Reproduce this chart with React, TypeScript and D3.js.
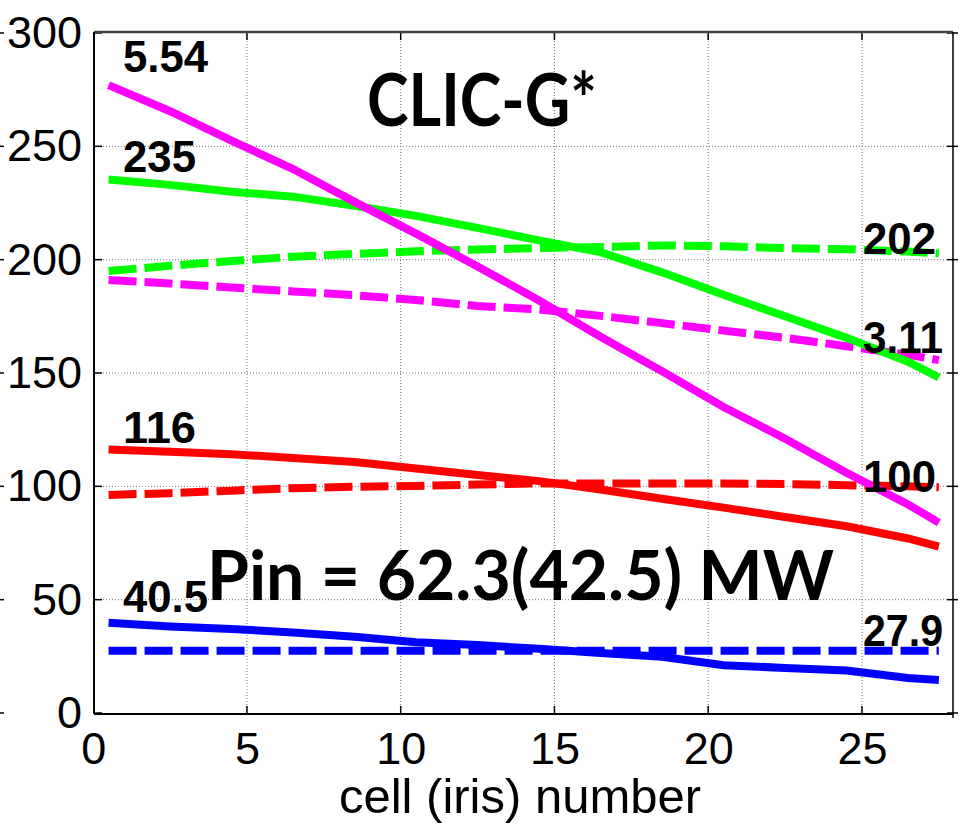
import React, { useRef, useEffect } from 'react';
import { select, scaleLinear, axisBottom, axisLeft, line } from 'd3';

// cell positions (iris number) where the curves were read
const cellX = [0.5, 2.5, 4.5, 6.5, 8.5, 10.5, 12.5, 14.5, 16.5, 18.5, 20.5, 22.5, 24.5, 26.5, 27.5];

const magentaSolid = [277, 265.5, 252.5, 240, 225.5, 211.5, 197, 182, 166, 150.8, 135, 121, 106, 92, 84];
const magentaDashed = [191, 189.5, 187.7, 186, 184.3, 182.2, 179.6, 178, 175.2, 172, 168.7, 165.5, 161.8, 158, 155.7];
const greenSolid = [235.4, 233, 230, 227.8, 223.8, 219.3, 214, 208.5, 203.3, 194.4, 184.5, 175, 165.5, 155, 148];
const greenDashed = [195, 197.3, 199.4, 201.3, 202.5, 203.7, 204.5, 205.1, 205.6, 206.3, 205.9, 205.1, 204.6, 203.6, 202.8];
const redSolid = [116.3, 115.3, 114.2, 112.5, 110.7, 107.9, 105, 102.3, 98.6, 94.5, 90.6, 86.5, 82.4, 77, 73.4];
const redDashed = [96.2, 97, 98.1, 99.2, 99.8, 100.2, 100.8, 101.3, 101.3, 101.3, 101.3, 101, 100.5, 100, 99.6];
const blueSolid = [39.8, 38.2, 37.1, 35.5, 33.6, 31.2, 30, 28.3, 26.5, 24.8, 21.1, 19.9, 18.7, 15.4, 14.6];
const blueDashed = [27.5, 27.5, 27.5, 27.5, 27.5, 27.5, 27.5, 27.5, 27.5, 27.5, 27.5, 27.5, 27.5, 27.5, 27.5];

const xTicks = [0, 5, 10, 15, 20, 25];
const yTicks = [0, 50, 100, 150, 200, 250, 300];

const series = [
  { values: magentaDashed, color: '#ff00ff', dashed: true },
  { values: greenDashed, color: '#00ff00', dashed: true },
  { values: redDashed, color: '#ff0000', dashed: true },
  { values: blueDashed, color: '#0000ff', dashed: true },
  { values: greenSolid, color: '#00ff00', dashed: false },
  { values: magentaSolid, color: '#ff00ff', dashed: false },
  { values: redSolid, color: '#ff0000', dashed: false },
  { values: blueSolid, color: '#0000ff', dashed: false },
];

// start / end value labels
const startLabels = [
  { text: '5.54', v: magentaSolid[0], dy: -5, w: 85 },
  { text: '235', v: greenSolid[0], dy: 1, w: 73 },
  { text: '116', v: redSolid[0], dy: 2, w: 73 },
  { text: '40.5', v: blueSolid[0], dy: -3, w: 85 },
];
const endLabels = [
  { text: '202', v: greenDashed[14], dy: 3, w: 73 },
  { text: '3.11', v: magentaDashed[14], dy: -5, w: 80 },
  { text: '100', v: redDashed[14], dy: 7, w: 73 },
  { text: '27.9', v: blueDashed[14], dy: -3, w: 80 },
];

const W = 960;
const H = 824;
const left = 94;
const right = 953;
const top = 32;
const bottom = 714;

export default function App() {
  const xAxisRef = useRef(null);
  const yAxisRef = useRef(null);

  const x = scaleLinear().domain([0, 28]).range([93.2, 954.2]);
  const y = scaleLinear().domain([0, 300]).range([713, 33]);

  useEffect(() => {
    const xa = select(xAxisRef.current);
    xa.call(axisBottom(x).tickValues(xTicks).tickSize(0).tickPadding(18));
    xa.select('.domain').remove();
    xa.selectAll('text')
      .attr('font-family', '"Liberation Sans", Arial, sans-serif')
      .attr('font-size', 45)
      .attr('fill', '#000');

    const ya = select(yAxisRef.current);
    ya.call(axisLeft(y).tickValues(yTicks).tickSize(0).tickPadding(12));
    ya.select('.domain').remove();
    ya.selectAll('text')
      .attr('font-family', '"Liberation Sans", Arial, sans-serif')
      .attr('font-size', 45)
      .attr('fill', '#000');
  }, []);

  const path = line<number>()
    .x((d, i) => x(cellX[i]))
    .y((d) => y(d));

  const numFont = '"Liberation Sans", Arial, sans-serif';

  return (
    <svg width={W} height={H} style={{ position: 'absolute', left: 0, top: 0, background: '#fff' }}>
      <rect x={0} y={0} width={W} height={H} fill="#fff" />
      {/* grid */}
      {xTicks.filter((t) => t > 0).map((t) => (
        <line key={'gx' + t} x1={x(t)} x2={x(t)} y1={top} y2={bottom} stroke="#777" strokeWidth={1} strokeDasharray="1 2" />
      ))}
      {yTicks.filter((t) => t > 0 && t < 300).map((t) => (
        <line key={'gy' + t} x1={left} x2={right} y1={y(t)} y2={y(t)} stroke="#777" strokeWidth={1} strokeDasharray="1 2" />
      ))}
      {/* inner ticks */}
      {xTicks.filter((t) => t > 0).map((t) => (
        <g key={'tx' + t} stroke="#000" strokeWidth={1.5}>
          <line x1={x(t)} x2={x(t)} y1={top} y2={top + 8} />
          <line x1={x(t)} x2={x(t)} y1={bottom} y2={bottom - 8} />
        </g>
      ))}
      {yTicks.map((t) => (
        <g key={'ty' + t} stroke="#000" strokeWidth={1.5}>
          <line x1={left} x2={left + 8} y1={y(t)} y2={y(t)} />
          <line x1={right - 6} x2={right + 5} y1={y(t)} y2={y(t)} />
          <line x1={0} x2={4} y1={y(t)} y2={y(t)} />
        </g>
      ))}
      {/* box */}
      <line x1={left} x2={right} y1={top} y2={top} stroke="#444" strokeWidth={2.5} />
      <line x1={left} x2={right} y1={bottom} y2={bottom} stroke="#000" strokeWidth={2} />
      <line x1={left} x2={left} y1={top} y2={bottom} stroke="#000" strokeWidth={2} />
      <line x1={right} x2={right} y1={top} y2={bottom + 4} stroke="#000" strokeWidth={1.5} />

      {/* curves */}
      {series.map((s, i) => (
        <path
          key={i}
          d={path(s.values) || ''}
          fill="none"
          stroke={s.color}
          strokeWidth={8}
          strokeDasharray={s.dashed ? '28 8' : undefined}
        />
      ))}

      {/* value labels */}
      {startLabels.map((l) => (
        <text key={l.text} x={123} y={y(l.v) - 8 + l.dy} fontFamily={numFont} fontWeight="bold" fontSize={44} textLength={l.w} lengthAdjust="spacingAndGlyphs" fill="#000">
          {l.text}
        </text>
      ))}
      {endLabels.map((l) => (
        <text key={l.text} x={863} y={y(l.v) - 2 + l.dy} fontFamily={numFont} fontWeight="bold" fontSize={44} textLength={l.w} lengthAdjust="spacingAndGlyphs" fill="#000">
          {l.text}
        </text>
      ))}

      <text x={367} y={126} fontFamily="Lato, 'Open Sans', sans-serif" fontWeight="bold" fontSize={72} textLength={230} lengthAdjust="spacingAndGlyphs" fill="#000">
        CLIC-G*
      </text>
      <text x={207} y={600} fontFamily="Lato, 'Open Sans', sans-serif" fontWeight="bold" fontSize={69} textLength={627} lengthAdjust="spacingAndGlyphs" fill="#000">
        Pin = 62.3(42.5) MW
      </text>

      <g ref={xAxisRef} transform={`translate(0,${bottom})`} />
      <g ref={yAxisRef} transform={`translate(${left},0)`} />

      <text x={520} y={813} textAnchor="middle" fontFamily={numFont} fontSize={49} fill="#000">
        cell (iris) number
      </text>
    </svg>
  );
}
